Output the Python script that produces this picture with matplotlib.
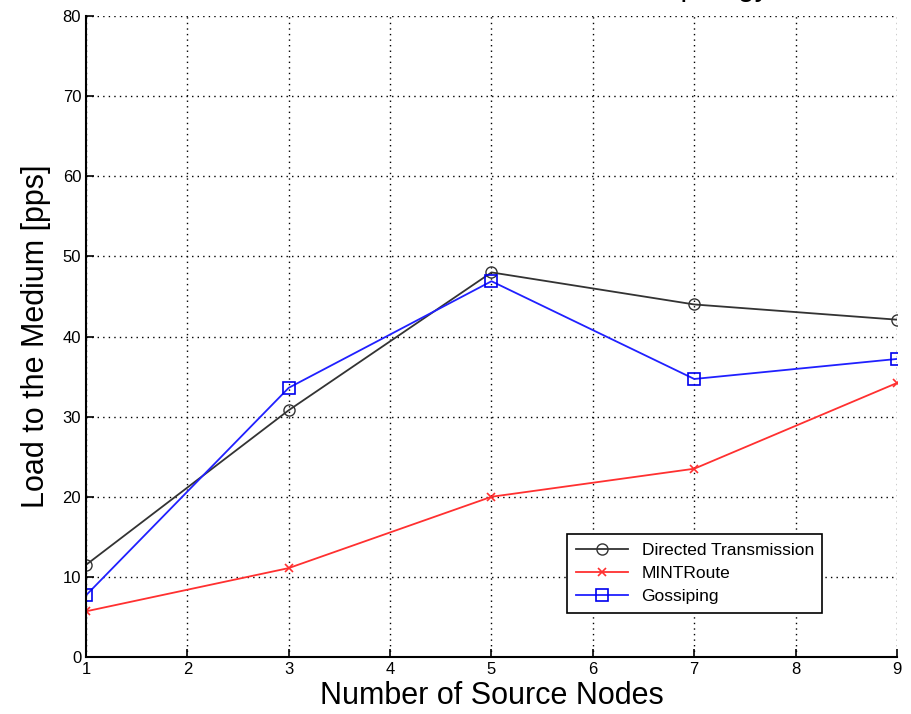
import matplotlib
matplotlib.use("Agg")
import matplotlib.pyplot as plt

plt.rcParams["font.family"] = ["Liberation Sans", "DejaVu Sans"]

nodos = [1, 3, 5, 7, 9]
directed = [11.5, 30.8, 48.0, 44.0, 42.1]
mintroute = [5.7, 11.1, 20.0, 23.5, 34.2]
gossiping = [7.7, 33.6, 46.9, 34.7, 37.2]

x_ticks = [1, 2, 3, 4, 5, 6, 7, 8, 9]
y_ticks = [0, 10, 20, 30, 40, 50, 60, 70, 80]

fig = plt.figure(figsize=(9.11, 7.14), dpi=100)
ax = fig.add_axes([0.0944, 0.0798, 0.8902, 0.8978])

ax.plot(nodos, directed, color="#333333", lw=1.3, marker="o", ms=8,
        mfc="none", mec="#333333", mew=1.0, label="Directed Transmission")
ax.plot(nodos, mintroute, color="#ff3030", lw=1.3, marker="x", ms=6,
        mew=1.2, label="MINTRoute")
ax.plot(nodos, gossiping, color="#2020ff", lw=1.3, marker="s", ms=8,
        mfc="none", mec="#0000ee", mew=1.2, label="Gossiping")

ax.set_xlim(1, 9)
ax.set_ylim(0, 80)
ax.set_xticks(x_ticks)
ax.set_yticks(y_ticks)
ax.tick_params(direction="in", length=6, width=1.2, labelsize=12,
               top=False, right=False)
ax.grid(True, color="black", linestyle=(0, (1, 3)), linewidth=1.0)
for s in ["top", "right"]:
    ax.spines[s].set_visible(False)
for s in ["left", "bottom"]:
    ax.spines[s].set_linewidth(1.5)

ax.set_xlabel("Number of Source Nodes", fontsize=22, labelpad=3)
ax.set_ylabel("Load to the Medium [pps]", fontsize=22, labelpad=8)

leg = ax.legend(loc="lower left", bbox_to_anchor=(0.593, 0.069),
                borderaxespad=0, fontsize=12.5, fancybox=False, framealpha=1,
                edgecolor="black", borderpad=0.5, handlelength=3.0,
                labelspacing=0.45)
leg.get_frame().set_linewidth(1.2)

# titulo cortado en la parte superior
fig.text(0.845, 1.007, "Load to the Medium: Grid Topology", ha="right",
         va="baseline", fontsize=22)

fig.savefig("out.png", dpi=100)
